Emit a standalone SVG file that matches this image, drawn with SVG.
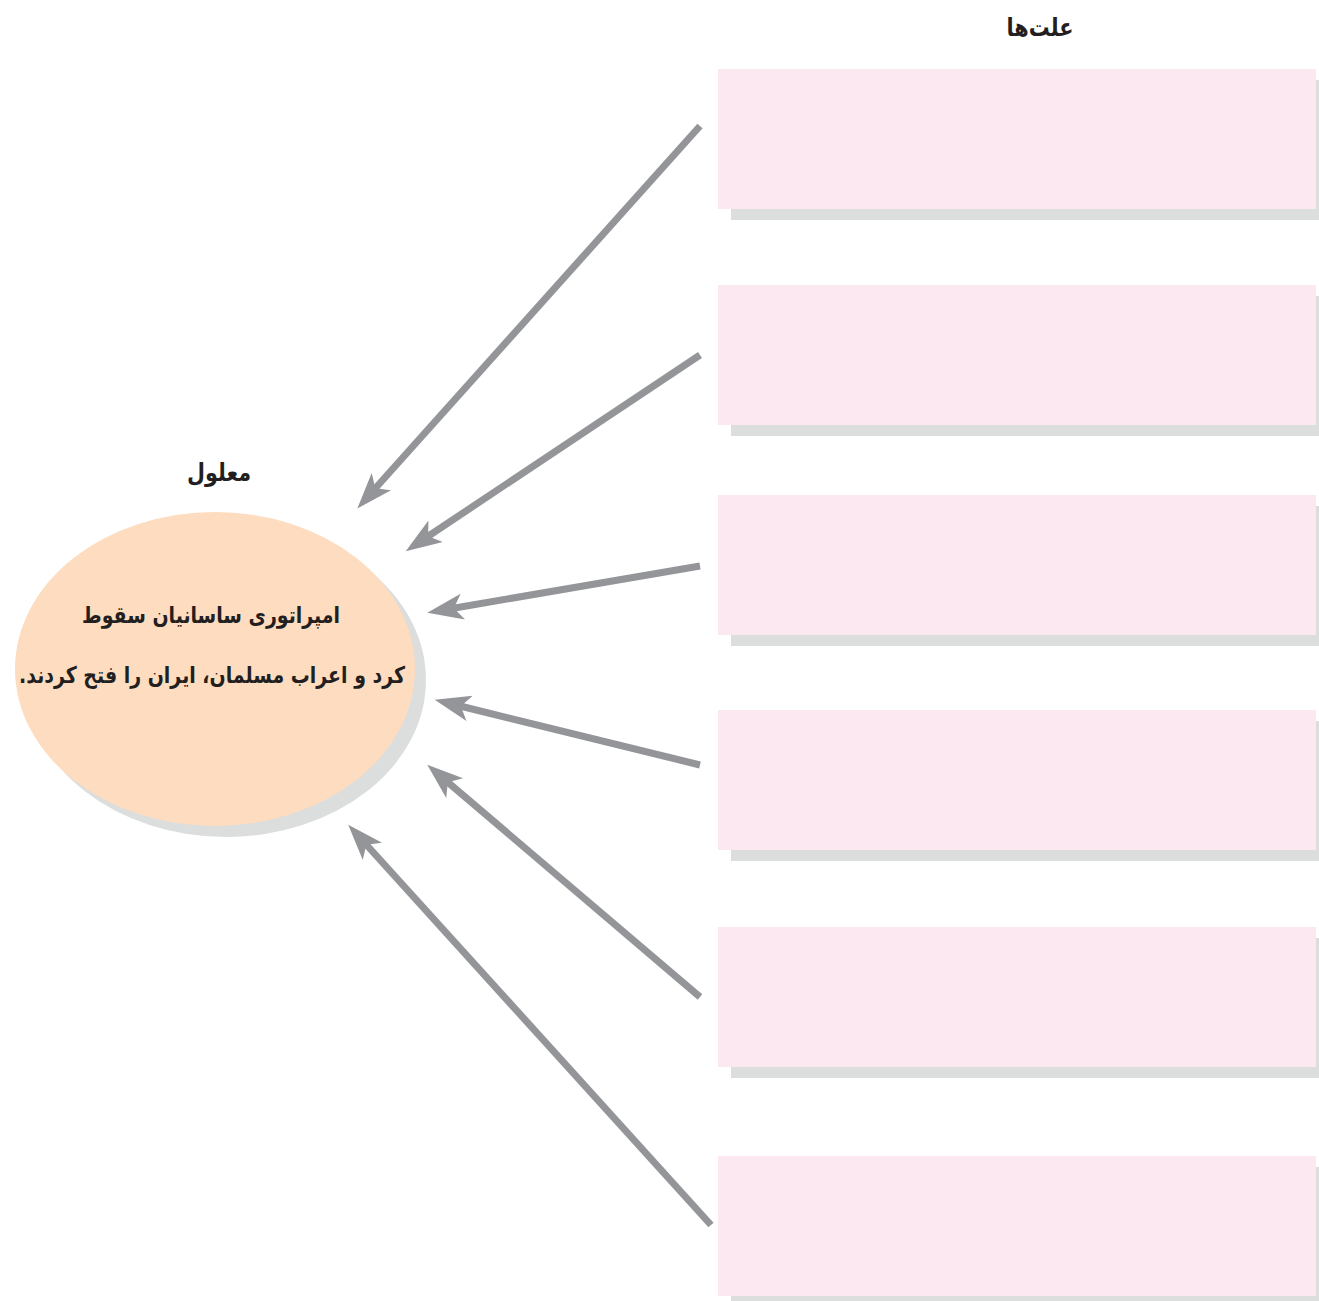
<svg xmlns="http://www.w3.org/2000/svg" width="1319" height="1301" viewBox="0 0 1319 1301">
<style>
.box{fill:#fce8f1}
.shd{fill:#dcdddd}
.arr{stroke:#939598;stroke-width:7;fill:none;marker-end:url(#ah)}
.t{font-family:"DejaVu Sans",sans-serif;font-weight:bold;fill:#231f20;text-anchor:middle}
</style>
<defs>
<marker id="ah" markerUnits="userSpaceOnUse" markerWidth="40" markerHeight="30" viewBox="0 -15 40 30" refX="14" refY="0" orient="auto">
<path d="M0,-13 L36,0 L0,13 L9,0 Z" fill="#939598"/>
</marker>
</defs>
<rect width="1319" height="1301" fill="#ffffff"/>
<text class="t" x="1040" y="36" font-size="25" direction="rtl" textLength="67" lengthAdjust="spacingAndGlyphs">علت&#x200C;ها</text>
<g id="cause1"><rect class="shd" x="731" y="80" width="588" height="140"/><rect class="box" x="718" y="69" width="598" height="140"/></g>
<g id="cause2"><rect class="shd" x="731" y="296" width="588" height="140"/><rect class="box" x="718" y="285" width="598" height="140"/></g>
<g id="cause3"><rect class="shd" x="731" y="506" width="588" height="140"/><rect class="box" x="718" y="495" width="598" height="140"/></g>
<g id="cause4"><rect class="shd" x="731" y="721" width="588" height="140"/><rect class="box" x="718" y="710" width="598" height="140"/></g>
<g id="cause5"><rect class="shd" x="731" y="938" width="588" height="140"/><rect class="box" x="718" y="927" width="598" height="140"/></g>
<g id="cause6"><rect class="shd" x="731" y="1167" width="588" height="140"/><rect class="box" x="718" y="1156" width="598" height="140"/></g>
<g id="effect">
<text class="t" x="219" y="481" font-size="25" direction="rtl" textLength="64" lengthAdjust="spacingAndGlyphs">معلول</text>
<ellipse cx="226" cy="680" rx="200" ry="157" fill="#dcdddd"/>
<ellipse cx="215" cy="669" rx="200" ry="157" fill="#fddcbf"/>
<text class="t" x="211" y="623" font-size="23" direction="rtl" textLength="258" lengthAdjust="spacingAndGlyphs">امپراتوری ساسانیان سقوط</text>
<text class="t" x="212" y="683" font-size="23" direction="rtl" textLength="386" lengthAdjust="spacingAndGlyphs">کرد و اعراب مسلمان، ایران را فتح کردند.</text>
</g>
<g id="connectors">
<line class="arr" x1="700" y1="126" x2="372" y2="492"/>
<line class="arr" x1="700" y1="355" x2="424" y2="539"/>
<line class="arr" x1="700" y1="566" x2="449" y2="609"/>
<line class="arr" x1="700" y1="765" x2="456" y2="705"/>
<line class="arr" x1="700" y1="997" x2="444" y2="779"/>
<line class="arr" x1="711" y1="1225" x2="363" y2="841"/>
</g>
</svg>
